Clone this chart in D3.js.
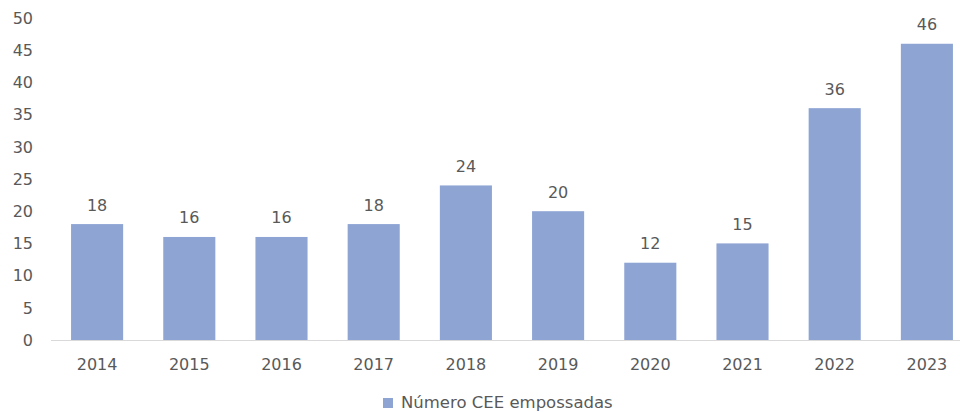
<!DOCTYPE html>
<html><head><meta charset="utf-8">
<script src="https://cdn.jsdelivr.net/npm/d3@7"></script>
<style>body{margin:0;background:#fff;}svg{display:block;}</style>
</head><body>
<svg id="c" width="960" height="412"></svg>
<script>
const years = ["2014","2015","2016","2017","2018","2019","2020","2021","2022","2023"];
const values = [18,16,16,18,24,20,12,15,36,46];
const yTicks = [0,5,10,15,20,25,30,35,40,45,50];
const seriesName = "Número CEE empossadas";

const svg = d3.select("#c");
const font = "'DejaVu Sans', sans-serif";
const txt = "#595959";
const barColor = "#8EA5D4";

const x = d3.scaleBand().domain(years).range([51, 973]).paddingInner(0.435).paddingOuter(0.2175);
const y = d3.scaleLinear().domain([0, 50]).range([340, 18]);

// y tick labels
svg.append("g").selectAll("text").data(yTicks).join("text")
  .attr("x", 33).attr("y", d => y(d)).attr("dy", "0.36em")
  .attr("text-anchor", "end").attr("font-family", font).attr("font-size", 16)
  .attr("fill", txt).text(d => d);

// bars
svg.append("g").selectAll("rect").data(values).join("rect")
  .attr("x", (d,i) => x(years[i])).attr("width", x.bandwidth())
  .attr("y", d => y(d)).attr("height", d => y(0) - y(d))
  .attr("fill", barColor);

// axis line
svg.append("line").attr("x1", 51).attr("x2", 973).attr("y1", y(0)+0.5).attr("y2", y(0)+0.5)
  .attr("stroke", "#d9d9d9").attr("stroke-width", 1);

// value labels
svg.append("g").selectAll("text").data(values).join("text")
  .attr("x", (d,i) => x(years[i]) + x.bandwidth()/2).attr("y", d => y(d) - 13.5)
  .attr("text-anchor", "middle").attr("font-family", font).attr("font-size", 16)
  .attr("fill", txt).text(d => d);

// x labels
svg.append("g").selectAll("text").data(years).join("text")
  .attr("x", d => x(d) + x.bandwidth()/2).attr("y", 370)
  .attr("text-anchor", "middle").attr("font-family", font).attr("font-size", 16)
  .attr("fill", txt).text(d => d);

// legend
const lg = svg.append("g");
lg.append("rect").attr("x", 383).attr("y", 398).attr("width", 10).attr("height", 10).attr("fill", barColor);
lg.append("text").attr("x", 401).attr("y", 408).attr("font-family", font).attr("font-size", 16.5)
  .attr("fill", txt).text(seriesName);
</script>
</body></html>
